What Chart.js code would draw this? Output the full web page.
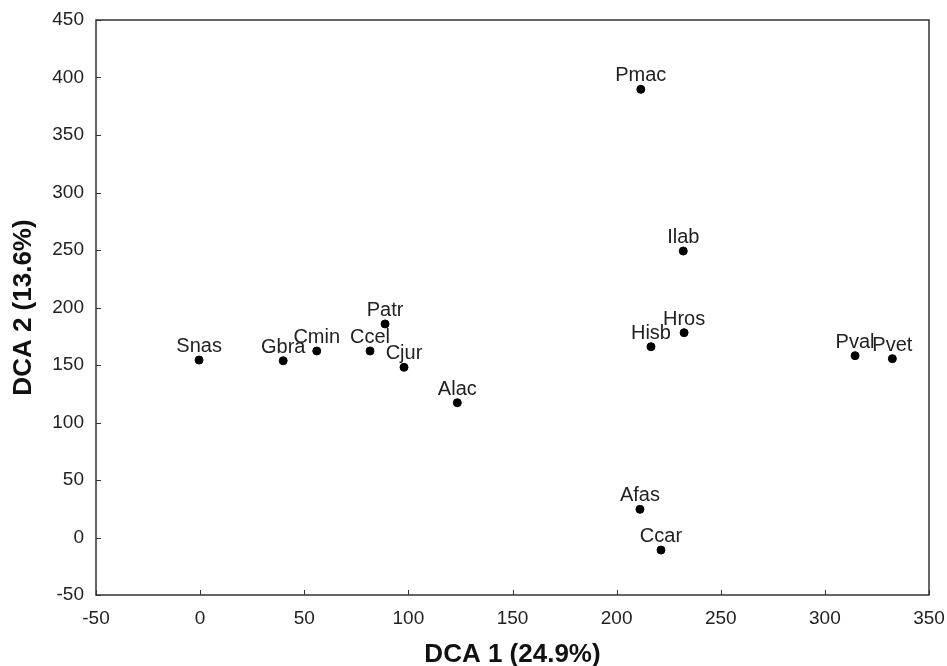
<!DOCTYPE html>
<html>
<head>
<meta charset="utf-8">
<title>DCA</title>
<script src="https://cdn.jsdelivr.net/npm/chart.js@4.4.1/dist/chart.umd.min.js"></script>
<style>
  html, body { margin: 0; padding: 0; background: #fff; }
  #wrap { width: 947px; height: 666px; }
</style>
</head>
<body>
<div id="wrap"><canvas id="dca"></canvas></div>
<script>
// species codes and their DCA scores
const species = ['Snas', 'Gbra', 'Cmin', 'Ccel', 'Patr', 'Cjur', 'Alac', 'Pmac', 'Ilab', 'Hros', 'Hisb', 'Pval', 'Pvet', 'Afas', 'Ccar'];
const dca1 = [-0.5, 39.9, 56.0, 81.6, 88.8, 97.9, 123.5, 211.6, 232.0, 232.4, 216.5, 314.5, 332.4, 211.2, 221.3];
const dca2 = [154.3, 153.7, 162.2, 162.2, 185.7, 148.0, 117.2, 389.7, 249.1, 178.1, 165.9, 158.1, 155.5, 24.5, -10.9];

const xTitle = 'DCA 1 (24.9%)';
const yTitle = 'DCA 2 (13.6%)';

const FONT = '"Liberation Sans", Arial, sans-serif';
Chart.defaults.font.family = FONT;
Chart.defaults.color = '#222';

const points = species.map((s, i) => ({ x: dca1[i], y: dca2[i] }));

// box around the plot, inward tick marks and the species labels
const framePlugin = {
    id: 'frame',
    afterDatasetsDraw(chart) {
        const ctx = chart.ctx;
        const area = chart.chartArea;
        const xs = chart.scales.x;
        const ys = chart.scales.y;
        const tickLen = 5;

        ctx.save();
        ctx.strokeStyle = '#333';
        ctx.lineWidth = 1.5;
        ctx.strokeRect(area.left, area.top, area.right - area.left, area.bottom - area.top);

        ctx.lineWidth = 1;
        ctx.beginPath();
        xs.ticks.forEach(t => {
            const px = Math.round(xs.getPixelForValue(t.value)) + 0.5;
            ctx.moveTo(px, area.bottom);
            ctx.lineTo(px, area.bottom - tickLen);
        });
        ys.ticks.forEach(t => {
            const py = Math.round(ys.getPixelForValue(t.value)) + 0.5;
            ctx.moveTo(area.left, py);
            ctx.lineTo(area.left + tickLen, py);
        });
        ctx.stroke();

        // labels above each point
        const meta = chart.getDatasetMeta(0);
        ctx.fillStyle = '#222';
        ctx.font = '20px ' + FONT;
        ctx.textAlign = 'center';
        ctx.textBaseline = 'alphabetic';
        meta.data.forEach((pt, i) => {
            ctx.fillText(species[i], pt.x, pt.y - 8);
        });
        ctx.restore();
    }
};

const ctx = document.getElementById('dca').getContext('2d');
new Chart(ctx, {
    type: 'scatter',
    data: {
        datasets: [{
            label: 'species',
            data: points,
            backgroundColor: '#000',
            borderColor: '#000',
            pointRadius: 4,
            pointHoverRadius: 4
        }]
    },
    options: {
        responsive: true,
        maintainAspectRatio: false,
        animation: false,
        layout: { padding: { top: 20, right: 18, left: 0, bottom: 0 } },
        plugins: {
            legend: { display: false },
            tooltip: { enabled: false }
        },
        scales: {
            x: {
                type: 'linear',
                min: -50,
                max: 350,
                afterFit(scale) {
                    scale.height = 71;
                    scale.paddingLeft = 0;
                    scale.paddingRight = 0;
                },
                grid: { display: false, drawTicks: false },
                border: { display: false },
                ticks: {
                    stepSize: 50,
                    padding: 12,
                    maxRotation: 0,
                    font: { size: 19 },
                    color: '#222'
                },
                title: {
                    display: true,
                    text: xTitle,
                    color: '#111',
                    font: { size: 26, weight: 'bold', lineHeight: 0.85 },
                    padding: { top: 0, bottom: 0 }
                }
            },
            y: {
                type: 'linear',
                min: -50,
                max: 450,
                afterFit(scale) {
                    scale.width = 96;
                    scale.paddingTop = 0;
                    scale.paddingBottom = 0;
                },
                grid: { display: false, drawTicks: false },
                border: { display: false },
                ticks: {
                    stepSize: 50,
                    padding: 12,
                    font: { size: 19 },
                    color: '#222'
                },
                title: {
                    display: true,
                    text: yTitle,
                    color: '#111',
                    font: { size: 26, weight: 'bold', lineHeight: 0.85 },
                    padding: { top: 13, bottom: 0 }
                }
            }
        }
    },
    plugins: [framePlugin]
});
</script>
</body>
</html>
